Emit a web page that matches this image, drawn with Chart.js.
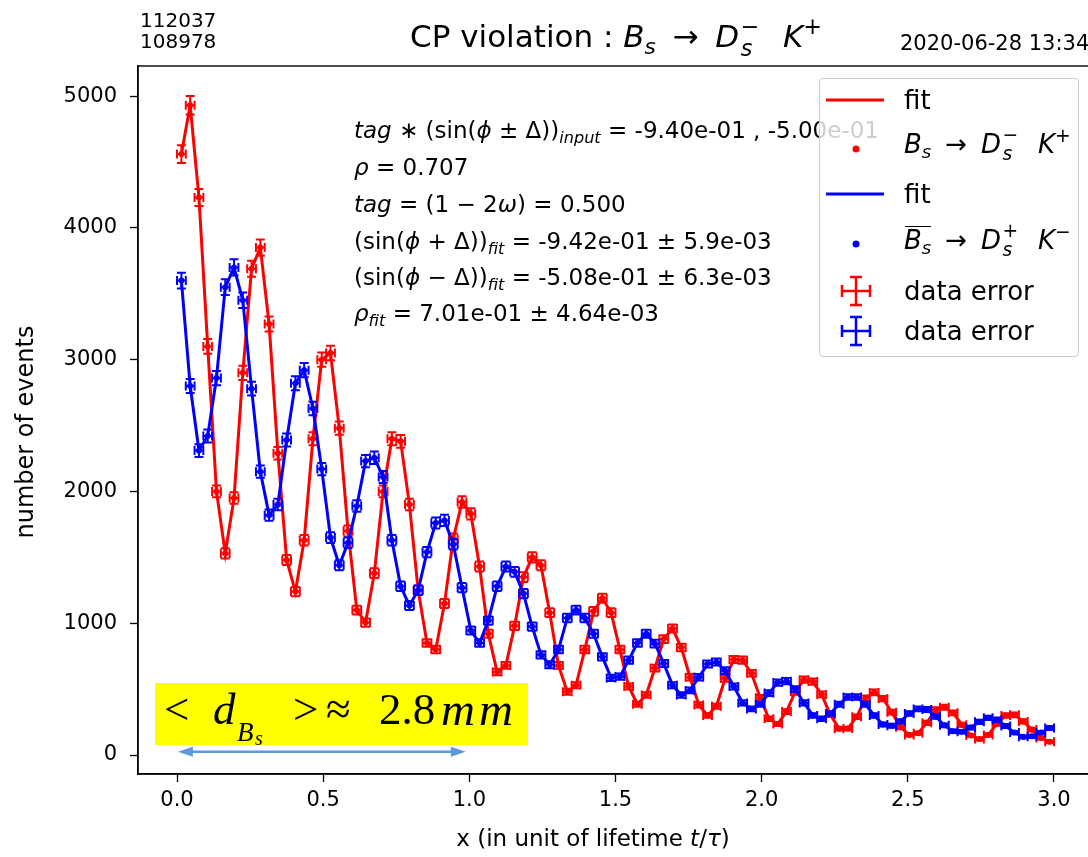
<!DOCTYPE html>
<html>
<head>
<meta charset="utf-8">
<script src="https://cdn.jsdelivr.net/npm/chart.js@4.4.0/dist/chart.umd.min.js"></script>
<style>
  html, body { margin: 0; padding: 0; background: #fff; overflow: hidden; }
  #wrap { position: relative; width: 1088px; height: 857px; overflow: hidden; font-family: "DejaVu Sans", sans-serif; color: #000; }
  canvas { position: absolute; left: 0; top: 0; }
  .txt { position: absolute; white-space: nowrap; line-height: 1; }
  .sb { font-size: 0.7em; vertical-align: -0.3em; line-height: 0; }
  .sp { font-size: 0.72em; vertical-align: 0.6em; line-height: 0; }
  .ss { display: inline-block; position: relative; width: 0.65em; height: 0; }
  .ss > span { position: absolute; left: 0.08em; font-size: 0.72em; line-height: 1; }
  .ss > .u { bottom: 0.45em; }
  .ss > .d { top: -0.45em; }
  .rel { margin: 0 0.22em; }
  .gap { margin-left: 0.45em; }
  .ob { position: relative; }
  .ob::after { content: ''; position: absolute; left: 0.05em; right: 0; top: 0.02em; border-top: 1.5px solid #000; }
  #legend { position: absolute; left: 819px; top: 78px; width: 258px; height: 277px; border: 1px solid #cccccc; border-radius: 4px; background: rgba(255,255,255,0.8); font-size: 26px; }
  #legend svg { position: absolute; left: 0; top: 0; }
  #dbox { position: absolute; left: 155px; top: 683px; width: 373px; height: 62px; background: #ffff00; font-family: "Liberation Serif", serif; overflow: visible; }
  #dbox span { position: absolute; line-height: 1; white-space: nowrap; }
</style>
</head>
<body>
<div id="wrap">
  <canvas id="c" width="1100" height="857"></canvas>

  <div class="txt" style="left:140px; top:10px; font-size:20px;">112037</div>
  <div class="txt" style="left:140px; top:31px; font-size:20px;">108978</div>
  <div class="txt" style="left:410px; top:21px; font-size:31px;">CP violation : <i>B</i><span class="sb"><i>s</i></span> <span class="rel">→</span> <i>D</i><span class="ss"><span class="u">−</span><span class="d"><i>s</i></span></span> <i class="gap">K</i><span class="sp">+</span></div>
  <div class="txt" style="left:900px; top:33px; font-size:21px;">2020-06-28 13:34</div>

  <div class="txt" style="left:354px; top:119px; font-size:23px;"><i>tag</i> ∗ (sin(<i>ϕ</i> ± Δ))<span class="sb"><i>input</i></span> = -9.40e-01 , -5.00e-01</div>
  <div class="txt" style="left:354px; top:156px; font-size:23px;"><i>ρ</i> = 0.707</div>
  <div class="txt" style="left:354px; top:193px; font-size:23px;"><i>tag</i> = (1 − 2<i>ω</i>) = 0.500</div>
  <div class="txt" style="left:354px; top:230px; font-size:23px;">(sin(<i>ϕ</i> + Δ))<span class="sb"><i>fit</i></span> = -9.42e-01 ± 5.9e-03</div>
  <div class="txt" style="left:354px; top:266px; font-size:23px;">(sin(<i>ϕ</i> − Δ))<span class="sb"><i>fit</i></span> = -5.08e-01 ± 6.3e-03</div>
  <div class="txt" style="left:354px; top:302px; font-size:23px;"><i>ρ</i><span class="sb"><i>fit</i></span> = 7.01e-01 ± 4.64e-03</div>

  <div id="legend">
    <svg width="258" height="277">
      <line x1="6" y1="21" x2="64" y2="21" stroke="#ff0000" stroke-width="3"/>
      <circle cx="36" cy="70" r="3.5" fill="#ff0000"/>
      <line x1="6" y1="115" x2="64" y2="115" stroke="#0000ff" stroke-width="3"/>
      <circle cx="36" cy="165" r="3.5" fill="#0000ff"/>
      <g stroke="#ff0000" stroke-width="2.5" fill="none">
        <path d="M22 212 H50 M36 198 V226 M30 198 H42 M30 226 H42 M22 206 V218 M50 206 V218"/>
      </g>
      <g stroke="#0000ff" stroke-width="2.5" fill="none">
        <path d="M22 252 H50 M36 238 V266 M30 238 H42 M30 266 H42 M22 246 V258 M50 246 V258"/>
      </g>
    </svg>
    <div class="txt" style="left:84px; top:8px;">fit</div>
    <div class="txt" style="left:84px; top:52px;"><i>B</i><span class="sb"><i>s</i></span> <span class="rel">→</span> <i>D</i><span class="ss"><span class="u">−</span><span class="d"><i>s</i></span></span> <i class="gap">K</i><span class="sp">+</span></div>
    <div class="txt" style="left:84px; top:102px;">fit</div>
    <div class="txt" style="left:84px; top:148px;"><span class="ob"><i>B</i><span class="sb"><i>s</i></span></span> <span class="rel">→</span> <i>D</i><span class="ss"><span class="u">+</span><span class="d"><i>s</i></span></span> <i class="gap">K</i><span class="sp">−</span></div>
    <div class="txt" style="left:84px; top:199px;">data error</div>
    <div class="txt" style="left:84px; top:239px;">data error</div>
  </div>

  <div id="dbox">
    <span style="left:9px; top:4px; font-size:45px;">&lt;</span>
    <span style="left:58px; top:4px; font-size:45px;"><i>d</i></span>
    <span style="left:82px; top:36px; font-size:27px;"><i>B</i></span>
    <span style="left:100px; top:45px; font-size:20px;"><i>s</i></span>
    <span style="left:138px; top:4px; font-size:45px;">&gt;</span>
    <span style="left:171px; top:4px; font-size:45px;">≈</span>
    <span style="left:224px; top:4px; font-size:45px;">2.8</span>
    <span style="left:286px; top:3px; font-size:47px; letter-spacing:4px;"><i>mm</i></span>
  </div>
</div>

<script>
// histogram binning in units of lifetime
const binWidth = 0.03;
const nBins = 100;
const binCentres = Array.from({length: nBins}, (_, i) => +(binWidth * (i + 0.5)).toFixed(3));

// B_s -> Ds- K+ (red)
const redCounts = [
  4560, 4930, 4230, 3100, 2000, 1530, 1950, 2900, 3690, 3850,
  3270, 2290, 1480, 1240, 1630, 2400, 3000, 3050, 2480, 1700,
  1100, 1005, 1380, 2000, 2400, 2380, 1900, 1250, 850, 800,
  1150, 1640, 1920, 1830, 1430, 920, 630, 680, 980, 1350,
  1500, 1440, 1080, 680, 480, 530, 800, 1090, 1190, 1080,
  800, 520, 385, 455, 660, 880, 960, 815, 590, 380,
  300, 370, 580, 725, 720, 620, 435, 275, 236, 330,
  480, 572, 557, 460, 306, 200, 201, 290, 430, 475,
  428, 325, 210, 152, 166, 244, 344, 362, 320, 230,
  148, 121, 152, 237, 300, 305, 255, 193, 130, 100
];

// anti-B_s -> Ds+ K- (blue)
const blueCounts = [
  3600, 2800, 2310, 2420, 2860, 3550, 3700, 3450, 2780, 2150,
  1820, 1900, 2390, 2820, 2920, 2630, 2170, 1650, 1440, 1610,
  1890, 2230, 2255, 2110, 1630, 1280, 1135, 1250, 1540, 1760,
  1780, 1600, 1270, 945, 850, 1020, 1280, 1430, 1390, 1225,
  975, 760, 685, 800, 1040, 1100, 1040, 920, 745, 585,
  595, 720, 850, 920, 845, 695, 530, 455, 490, 590,
  690, 705, 640, 520, 395, 350, 385, 470, 550, 560,
  500, 395, 300, 275, 315, 385, 440, 440, 385, 300,
  232, 222, 255, 315, 350, 345, 292, 225, 180, 176,
  208, 252, 282, 268, 220, 170, 138, 142, 170, 205
];

const xTicks = [0.0, 0.5, 1.0, 1.5, 2.0, 2.5, 3.0];
const yTicks = [0, 1000, 2000, 3000, 4000, 5000];

// mean decay length span drawn under the yellow note
const arrowFrom = 0.003;
const arrowTo = 0.988;
const arrowLevel = 25;

const RED = "#ff0000";
const BLUE = "#0000ff";

function points(counts) {
  return binCentres.map((x, i) => ({x: x, y: counts[i]}));
}

// error bars: poisson on y, half bin on x
const errorBarPlugin = {
  id: "errorBars",
  afterDatasetDraw(chart, args) {
    const ds = chart.data.datasets[args.index];
    if (!ds.errorBars) return;
    const {ctx, scales: {x, y}} = chart;
    const cap = 4.5;
    ctx.save();
    ctx.strokeStyle = ds.backgroundColor;
    ctx.lineWidth = 2;
    ctx.beginPath();
    ds.data.forEach(p => {
      const e = Math.sqrt(p.y);
      const px = x.getPixelForValue(p.x), py = y.getPixelForValue(p.y);
      const xl = x.getPixelForValue(p.x - binWidth / 2), xr = x.getPixelForValue(p.x + binWidth / 2);
      const yt = y.getPixelForValue(p.y + e), yb = y.getPixelForValue(p.y - e);
      ctx.moveTo(px, yt); ctx.lineTo(px, yb);
      ctx.moveTo(xl, py); ctx.lineTo(xr, py);
      ctx.moveTo(px - cap, yt); ctx.lineTo(px + cap, yt);
      ctx.moveTo(px - cap, yb); ctx.lineTo(px + cap, yb);
      ctx.moveTo(xl, py - cap); ctx.lineTo(xl, py + cap);
      ctx.moveTo(xr, py - cap); ctx.lineTo(xr, py + cap);
    });
    ctx.stroke();
    ctx.restore();
  }
};

// box around the axes, axis titles and the double arrow
const framePlugin = {
  id: "frame",
  afterDraw(chart) {
    const {ctx, chartArea: a, scales: {x, y}} = chart;
    ctx.save();
    ctx.strokeStyle = "#000";
    ctx.lineWidth = 1.4;
    ctx.strokeRect(a.left, a.top, a.right - a.left, a.bottom - a.top);

    // axis titles
    ctx.fillStyle = "#000";
    ctx.textBaseline = "middle";
    ctx.font = "24px 'DejaVu Sans'";
    ctx.save();
    ctx.translate(27, 432);
    ctx.rotate(-Math.PI / 2);
    ctx.textAlign = "center";
    ctx.fillText("number of events", 0, 0);
    ctx.restore();

    const parts = [["x (in unit of lifetime ", "normal"], ["t", "italic"], ["/", "normal"], ["τ", "italic"], [")", "normal"]];
    let total = 0;
    parts.forEach(p => { ctx.font = p[1] + " 23px 'DejaVu Sans'"; total += ctx.measureText(p[0]).width; });
    let cx = 593 - total / 2;
    ctx.textAlign = "left";
    parts.forEach(p => {
      ctx.font = p[1] + " 23px 'DejaVu Sans'";
      ctx.fillText(p[0], cx, 840);
      cx += ctx.measureText(p[0]).width;
    });

    const x0 = x.getPixelForValue(arrowFrom), x1 = x.getPixelForValue(arrowTo);
    const yy = y.getPixelForValue(arrowLevel);
    const head = 15, half = 5;
    ctx.strokeStyle = "#5b9bd5";
    ctx.fillStyle = "#5b9bd5";
    ctx.lineWidth = 2.5;
    ctx.beginPath();
    ctx.moveTo(x0 + head - 2, yy); ctx.lineTo(x1 - head + 2, yy);
    ctx.stroke();
    ctx.beginPath();
    ctx.moveTo(x0, yy); ctx.lineTo(x0 + head, yy - half); ctx.lineTo(x0 + head, yy + half); ctx.closePath();
    ctx.moveTo(x1, yy); ctx.lineTo(x1 - head, yy - half); ctx.lineTo(x1 - head, yy + half); ctx.closePath();
    ctx.fill();
    ctx.restore();
  }
};

const tickFont = {family: "DejaVu Sans", size: 21};

new Chart(document.getElementById("c"), {
  type: "scatter",
  data: {
    datasets: [
      {label: "fit", data: points(redCounts), showLine: true, borderColor: RED, borderWidth: 3,
       pointRadius: 0, backgroundColor: RED, order: 4},
      {label: "B_s -> Ds- K+", data: points(redCounts), borderColor: RED, backgroundColor: RED,
       pointRadius: 3, pointBorderWidth: 0, errorBars: true, order: 3},
      {label: "fit", data: points(blueCounts), showLine: true, borderColor: BLUE, borderWidth: 3,
       pointRadius: 0, backgroundColor: BLUE, order: 2},
      {label: "anti-B_s -> Ds+ K-", data: points(blueCounts), borderColor: BLUE, backgroundColor: BLUE,
       pointRadius: 3, pointBorderWidth: 0, errorBars: true, order: 1}
    ]
  },
  options: {
    responsive: false,
    animation: false,
    layout: {padding: {left: 0, right: 7, top: 66, bottom: 0}},
    plugins: {legend: {display: false}, tooltip: {enabled: false}},
    scales: {
      x: {
        type: "linear", min: -0.1335, max: 3.1335,
        afterBuildTicks: s => { s.ticks = xTicks.map(v => ({value: v})); },
        afterFit: s => { s.height = 83; },
        ticks: {callback: v => Number(v).toFixed(1), font: tickFont, color: "#000", padding: 6, maxRotation: 0},
        grid: {display: true, drawOnChartArea: false, drawTicks: true, tickLength: 8, tickColor: "#000", tickWidth: 1.3},
        border: {display: true, color: "#000", width: 1.4}
      },
      y: {
        type: "linear", min: -144, max: 5228,
        afterBuildTicks: s => { s.ticks = yTicks.map(v => ({value: v})); },
        afterFit: s => { s.width = 138; },
        ticks: {callback: v => String(v), font: tickFont, color: "#000", padding: 13},
        grid: {display: true, drawOnChartArea: false, drawTicks: true, tickLength: 8, tickColor: "#000", tickWidth: 1.3},
        border: {display: true, color: "#000", width: 1.4}
      }
    }
  },
  plugins: [errorBarPlugin, framePlugin]
});
</script>
</body>
</html>
